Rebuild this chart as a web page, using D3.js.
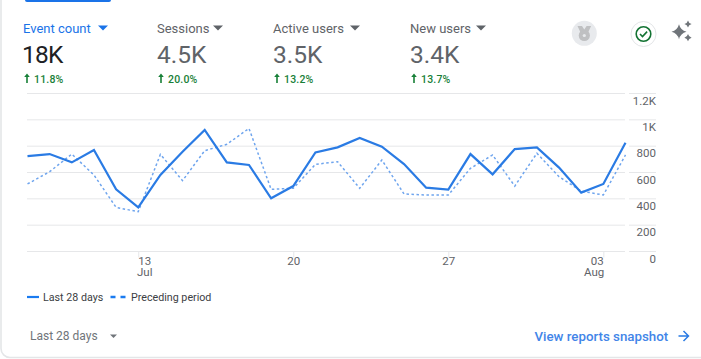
<!DOCTYPE html>
<html><head><meta charset="utf-8">
<script src="https://cdn.jsdelivr.net/npm/d3@7"></script>
<style>
html,body{margin:0;padding:0;background:#fff;overflow:hidden}
svg{display:block}
text{font-family:Roboto,sans-serif}
.tick text{font-family:Roboto,sans-serif}
</style></head><body><svg id="c" width="701" height="359"></svg>
<script>
const startDate = "2024-07-08";
const current = [725,740,677,771,472,335,581,758,923,677,657,404,497,753,791,862,796,664,485,470,740,586,778,791,637,447,513,826];
const previous = [513,606,740,581,335,302,738,538,766,814,935,472,480,662,682,480,695,437,429,429,632,733,497,746,568,459,429,733];
const yTicks = [0,200,400,600,800,1000,1200];
const yTickLabels = ["0","200","400","600","800","1K","1.2K"];
const xTickDays = ["2024-07-13","2024-07-20","2024-07-27","2024-08-03"];
const xTickLabels = ["13","20","27","03"];
const xTickSub = ["Jul","","","Aug"];
const metricNames = ["Event count","Sessions","Active users","New users"];
const metricValues = ["18K","4.5K","3.5K","3.4K"];
const metricDeltas = ["11.8%","20.0%","13.2%","13.7%"];
const legendLabels = ["Last 28 days","Preceding period"];

const svg = d3.select("#c");
const parse = d3.utcParse("%Y-%m-%d");
const t0 = parse(startDate);
const dates = current.map((_,i)=>d3.utcDay.offset(t0,i));
const x = d3.scaleUtc().domain([dates[0],dates[27]]).range([27.5,625.5]);
const y = d3.scaleLinear().domain([0,1200]).range([251.5,93.5]);

// card
svg.append("rect").attr("x",1).attr("y",-12).attr("width",709).attr("height",369.5)
  .attr("rx",9).attr("fill","#fff").attr("stroke","#e4e6e8").attr("stroke-width",1.6);
svg.append("rect").attr("x",25).attr("y",-3).attr("width",86).attr("height",5).attr("rx",2).attr("fill","#1a73e8");

// metrics
const metricX = [23,157,273,410];
const caretX = [103,218,355,481];
const m = svg.selectAll("g.metric").data(metricNames).join("g").attr("class","metric");
m.append("text").attr("x",(d,i)=>metricX[i]).attr("y",33).attr("font-size",13)
  .attr("fill",(d,i)=>i===0?"#1a73e8":"#5f6368").text(d=>d);
m.append("path").attr("d",(d,i)=>`M${caretX[i]-5} 25.5h10l-5 5z`).attr("fill",(d,i)=>i===0?"#1a73e8":"#5f6368");
m.append("text").attr("x",(d,i)=>metricX[i]-(i===0?1:0)).attr("y",62.5).attr("font-size",24.5)
  .attr("letter-spacing",(d,i)=>i===0?-0.8:0)
  .attr("fill",(d,i)=>i===0?"#202124":"#5f6368").text((d,i)=>metricValues[i]);
m.append("text").attr("x",(d,i)=>metricX[i]+11).attr("y",83).attr("font-size",10.5).attr("font-weight",500).attr("letter-spacing",0.2)
  .attr("fill","#188038").text((d,i)=>metricDeltas[i]);
m.append("path").attr("d",(d,i)=>{const a=metricX[i]+4;return `M${a-.8} 83v-6h-2l2.8-3.4l2.8 3.4h-2v6z`;}).attr("fill","#188038");

// icons
svg.append("circle").attr("cx",584.3).attr("cy",33.3).attr("r",12.5).attr("fill","#e8eaed");
const medal = svg.append("g").attr("fill","#bfc0c2");
medal.append("path").attr("d","M577.5 26h4.5l2.3 3.5l2.3-3.5h4.5l-3 6.5h-7.6z");
medal.append("circle").attr("cx",584.3).attr("cy",35.5).attr("r",5.6);
svg.append("circle").attr("cx",584.3).attr("cy",35.5).attr("r",1.6).attr("fill","#e8eaed");
svg.append("circle").attr("cx",643.5).attr("cy",34).attr("r",12.5).attr("fill","#fff").attr("stroke","#e3e5e7");
svg.append("circle").attr("cx",643.5).attr("cy",34).attr("r",7.3).attr("fill","none").attr("stroke","#137333").attr("stroke-width",1.6);
svg.append("path").attr("d","M640 34l2.5 2.6l4.6-5").attr("fill","none").attr("stroke","#137333").attr("stroke-width",1.6);
const spark = (cx,cy,r)=>`M${cx} ${cy-r}Q${cx+r*.2} ${cy-r*.2} ${cx+r} ${cy}Q${cx+r*.2} ${cy+r*.2} ${cx} ${cy+r}Q${cx-r*.2} ${cy+r*.2} ${cx-r} ${cy}Q${cx-r*.2} ${cy-r*.2} ${cx} ${cy-r}z`;
svg.append("path").attr("d",spark(679,31.7,7.5)+spark(688,24,3.6)+spark(688,37.7,3.6)).attr("fill","#70757a");

// grid + axes
const gridColor = "#e6e7e9";
svg.append("g").selectAll("line").data(yTicks).join("line")
  .attr("x1",27).attr("x2",625).attr("y1",d=>y(d)).attr("y2",d=>y(d)).attr("stroke",gridColor).attr("stroke-width",1);
svg.append("g").selectAll("line").data(yTicks).join("line")
  .attr("x1",629).attr("x2",656).attr("y1",d=>y(d)).attr("y2",d=>y(d)).attr("stroke",gridColor).attr("stroke-width",1);

const yAxis = d3.axisRight(y).tickValues(yTicks).tickFormat((d,i)=>yTickLabels[i]).tickSize(0);
const gy = svg.append("g").call(yAxis);
gy.select(".domain").remove();
gy.selectAll("text").attr("x",656).attr("dy",0).attr("y",10.5).attr("text-anchor","end")
  .attr("font-size",11.5).attr("fill","#5f6368");

const xDates = xTickDays.map(parse);
const xLabelShift = [6,0,0,-6.7];
const xSubShift = [6,0,0,-9.7];
const xAxis = d3.axisBottom(x).tickValues(xDates).tickFormat("").tickSize(6);
const gx = svg.append("g").attr("transform","translate(0,251.5)").call(xAxis);
gx.select(".domain").remove();
gx.selectAll("line").attr("stroke",gridColor);
const tickText = gx.selectAll(".tick text").attr("font-size",11.5).attr("fill","#5f6368").attr("y",13.5).attr("dy",0);
tickText.each(function(d,i){
  const t = d3.select(this);
  t.append("tspan").attr("x",xLabelShift[i]).attr("y",13.5).text(xTickLabels[i]);
  if (xTickSub[i]) t.append("tspan").attr("x",xSubShift[i]).attr("y",24.5).text(xTickSub[i]);
});

// lines
const line = d3.line().x((d,i)=>x(dates[i])).y(d=>y(d));
svg.append("path").datum(previous).attr("d",line).attr("fill","none").attr("stroke","#6fa5ee").attr("stroke-width",1.5).attr("stroke-dasharray","2.5 2.5");
svg.append("path").datum(current).attr("d",line).attr("fill","none").attr("stroke","#2a7be4").attr("stroke-width",2.2).attr("stroke-linejoin","miter");

// legend
svg.append("line").attr("x1",27).attr("x2",39).attr("y1",297).attr("y2",297).attr("stroke","#1a7bf0").attr("stroke-width",2.2);
svg.append("line").attr("x1",110.5).attr("x2",125.5).attr("y1",297).attr("y2",297).attr("stroke","#1a7bf0").attr("stroke-width",2.4).attr("stroke-dasharray","5 5");
svg.selectAll("text.leg").data(legendLabels).join("text").attr("class","leg").attr("x",(d,i)=>[43,131][i]).attr("y",301)
  .attr("font-size",10.7).attr("fill","#3c4043").text(d=>d);

// footer
svg.append("text").attr("x",30).attr("y",340).attr("font-size",12).attr("fill","#70757a").text("Last 28 days");
svg.append("path").attr("d","M110 334.5h7l-3.5 3.5z").attr("fill","#70757a");
svg.append("text").attr("x",534.5).attr("y",340.5).attr("font-size",13.3).attr("font-weight",500).attr("fill","#4285e8").text("View reports snapshot");
svg.append("path").attr("d","M678.5 336h10M683.5 331l5 5l-5 5").attr("fill","none").attr("stroke","#2a7be4").attr("stroke-width",1.5);
</script></body></html>
